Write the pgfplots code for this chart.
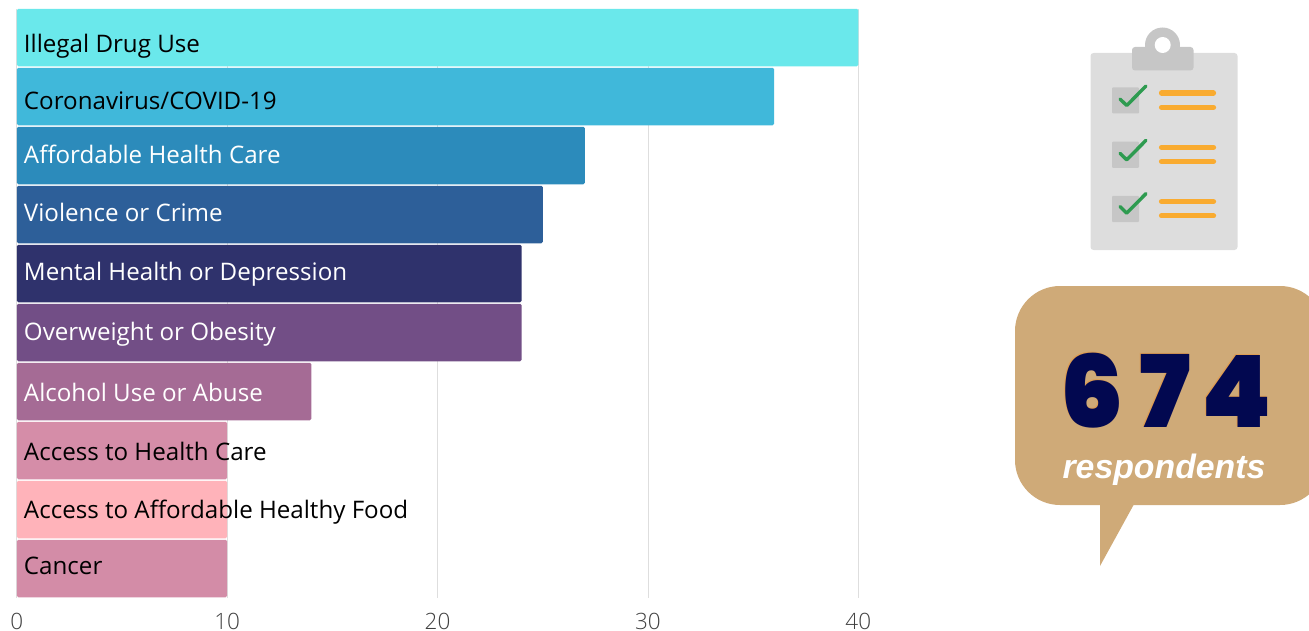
\documentclass[border=0pt]{standalone}
\usepackage{pgfplots}
\pgfplotsset{compat=1.18}
\usepackage{fontspec}
\setmainfont{Open Sans}
\newfontfamily\oslight{Open Sans Light}
\newfontfamily\numfont{Poppins Black}
\newfontfamily\respfont{Liberation Sans}
\definecolor{c1}{HTML}{6AE8EB}
\definecolor{c2}{HTML}{40B8DA}
\definecolor{c3}{HTML}{2C8BBB}
\definecolor{c4}{HTML}{2D5F99}
\definecolor{c5}{HTML}{2F326C}
\definecolor{c6}{HTML}{724E86}
\definecolor{c7}{HTML}{A56B95}
\definecolor{c8}{HTML}{D58DA8}
\definecolor{c9}{HTML}{FFB3BA}
\definecolor{c10}{HTML}{D38CA7}
\definecolor{tan}{HTML}{CFAA78}
\definecolor{board}{HTML}{DDDDDD}
\definecolor{clipg}{HTML}{C6C6C6}
\definecolor{chk}{HTML}{2E9B50}
\definecolor{org}{HTML}{F9AB30}
\definecolor{navy}{HTML}{020850}
\begin{document}
\begin{tikzpicture}[x=1pt,y=-1pt]
\useasboundingbox (0,0) rectangle (1309,631);
\begin{axis}[
  scale only axis, width=841.5pt, height=589pt,
  at={(8,598)}, anchor=south west,
  xmin=0, xmax=40, ymin=9, ymax=598, y dir=reverse,
  xtick={0,10,20,30,40}, ytick=\empty,
  xmajorgrids, grid style={draw=black!13, line width=0.8pt},
  axis line style={draw=none}, tick style={draw=none},
  /pgf/number format/assume math mode=true,
  x tick label style={font=\oslight\fontsize{22.5}{26}\selectfont, text=black!75, yshift=-12pt},
  xbar, bar width=57.5pt, bar shift=0pt, clip=false,
  every axis plot/.append style={draw=none, rounded corners=1.5pt},
]
\addplot[fill=c1] coordinates {(40,37.5)};
\addplot[fill=c2] coordinates {(36,96.5)};
\addplot[fill=c3] coordinates {(27,155.5)};
\addplot[fill=c4] coordinates {(25,214.5)};
\addplot[fill=c5] coordinates {(24,273.5)};
\addplot[fill=c6] coordinates {(24,332.5)};
\addplot[fill=c7] coordinates {(14,391.5)};
\addplot[fill=c8] coordinates {(10,450.5)};
\addplot[fill=c9] coordinates {(10,509.5)};
\addplot[fill=c10] coordinates {(10,568.5)};
\tikzset{lab/.style={anchor=base west, inner sep=0pt, font=\fontsize{24.15}{28}\selectfont}}
\node[lab,text=black] at (axis cs:0.33,52) {Illegal Drug Use};
\node[lab,text=black] at (axis cs:0.33,109) {Coronavirus/COVID-19};
\node[lab,text=white] at (axis cs:0.33,163) {Affordable Health Care};
\node[lab,text=white] at (axis cs:0.33,221) {Violence or Crime};
\node[lab,text=white] at (axis cs:0.33,280) {Mental Health or Depression};
\node[lab,text=white] at (axis cs:0.33,340) {Overweight or Obesity};
\node[lab,text=white] at (axis cs:0.33,401) {Alcohol Use or Abuse};
\node[lab,text=black] at (axis cs:0.33,460) {Access to Health Care};
\node[lab,text=black] at (axis cs:0.33,518) {Access to Affordable Healthy Food};
\node[lab,text=black] at (axis cs:0.33,574) {Cancer};
\end{axis}
% clipboard
\fill[board,rounded corners=3pt] (1090.5,53) rectangle (1237.5,250);
\fill[clipg] (1162.5,45) circle (17.5pt);
\fill[clipg,rounded corners=3pt] (1132,47) rectangle (1193.5,70.5);
\fill[white] (1162.7,45) circle (8pt);
\foreach \d/\e in {0/0,54.3/54.3,108.6/107.6}{
  \fill[clipg,rounded corners=1pt] (1112,87.3+\d) rectangle (1139,113.5+\d);
  \draw[chk,line width=3.4pt,line cap=round,line join=round] (1120,99+\e) -- (1126.7,105.5+\e) -- (1146,86+\e);
  \draw[org,line width=5.2pt,line cap=round] (1161.5,93+\d) -- (1213.5,93+\d);
  \draw[org,line width=5.2pt,line cap=round] (1161.5,107.3+\d) -- (1213.5,107.3+\d);
}
% bubble
\begin{scope}
\clip (0,0) rectangle (1309,631);
\fill[tan] (1100,500) -- (1100,566) -- (1136.3,500) -- cycle;
\fill[tan,rounded corners=45pt] (1015,286) rectangle (1325,505);
\end{scope}
\tikzset{num/.style={anchor=base,inner sep=0pt,font=\numfont\fontsize{100}{100}\selectfont}}
\foreach \c/\xx in {6/1092,7/1165.5,4/1236.5}{
  \node[num,text=orange!30!tan] at (\xx-1,426) {\c};
  \node[num,text=navy] at (\xx,427) {\c};
}
\node[anchor=base,inner sep=0pt,text=white,font=\respfont\bfseries\itshape\fontsize{33.8}{36}\selectfont] at (1164,478) {respondents};
\end{tikzpicture}
\end{document}
